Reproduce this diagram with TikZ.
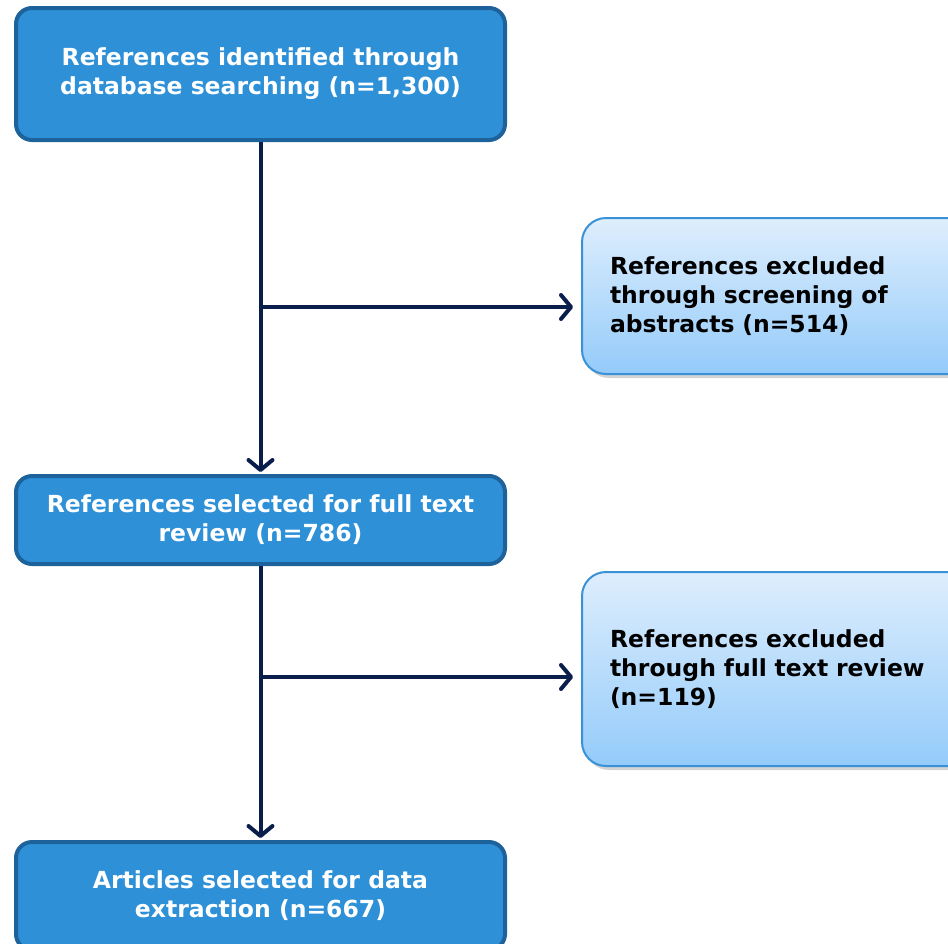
\documentclass[tikz,border=0pt]{standalone}
\usepackage{fontspec}
\setmainfont{DejaVu Sans}
\usetikzlibrary{arrows.meta,shadows}
\definecolor{mainfill}{RGB}{46,145,216}
\definecolor{mainedge}{RGB}{30,98,155}
\definecolor{sidetop}{RGB}{222,238,253}
\definecolor{sidebot}{RGB}{148,203,250}
\definecolor{sideedge}{RGB}{58,145,214}
\definecolor{conncol}{RGB}{10,30,76}
\tikzset{
  mainbox/.style={draw=mainedge, line width=4pt, fill=mainfill, rounded corners=16pt,
    text=white, font=\fontsize{23.5}{29}\selectfont\bfseries, align=center,
    minimum width=489pt, inner sep=0pt},
  sidebox/.style={draw=sideedge, line width=2pt, top color=sidetop, bottom color=sidebot,
    rounded corners=24pt, text=black, font=\fontsize{23.5}{29}\selectfont\bfseries,
    align=left, text width=380pt, inner xsep=28pt, inner ysep=0pt,
    drop shadow={shadow xshift=3pt, shadow yshift=-4pt, opacity=0.35}},
  conn/.style={draw=conncol, line width=4pt,
    -{Straight Barb[length=10pt,width=24pt,line width=4pt,line cap=round,line join=round]}}
}
\begin{document}
\begin{tikzpicture}[x=1pt,y=-1pt]
\useasboundingbox (0,0) rectangle (948,943);
\clip (0,0) rectangle (948,943);
\node[mainbox, minimum height=132pt] (b1) at (260.5,74) {References identified through\\database searching (n=1,300)};
\node[sidebox, minimum height=156pt, anchor=west] (b2) at (581,296) {References excluded\\through screening of\\abstracts (n=514)};
\node[mainbox, minimum height=88pt] (b3) at (260.5,520) {References selected for full text\\review (n=786)};
\node[sidebox, minimum height=194pt, anchor=west] (b4) at (581,669) {References excluded\\through full text review\\(n=119)};
\node[mainbox, minimum height=108pt] (b5) at (260.5,896) {Articles selected for data\\extraction (n=667)};
\coordinate (j1) at (260.5,307);
\coordinate (j2) at (260.5,677);
\draw[conn, shorten >=2pt] (b1.south) -- (b3.north);
\draw[conn, shorten >=8pt] (j1) -- (j1 -| b2.west);
\draw[conn, shorten >=2pt] (b3.south) -- (b5.north);
\draw[conn, shorten >=8pt] (j2) -- (j2 -| b4.west);
\end{tikzpicture}
\end{document}
